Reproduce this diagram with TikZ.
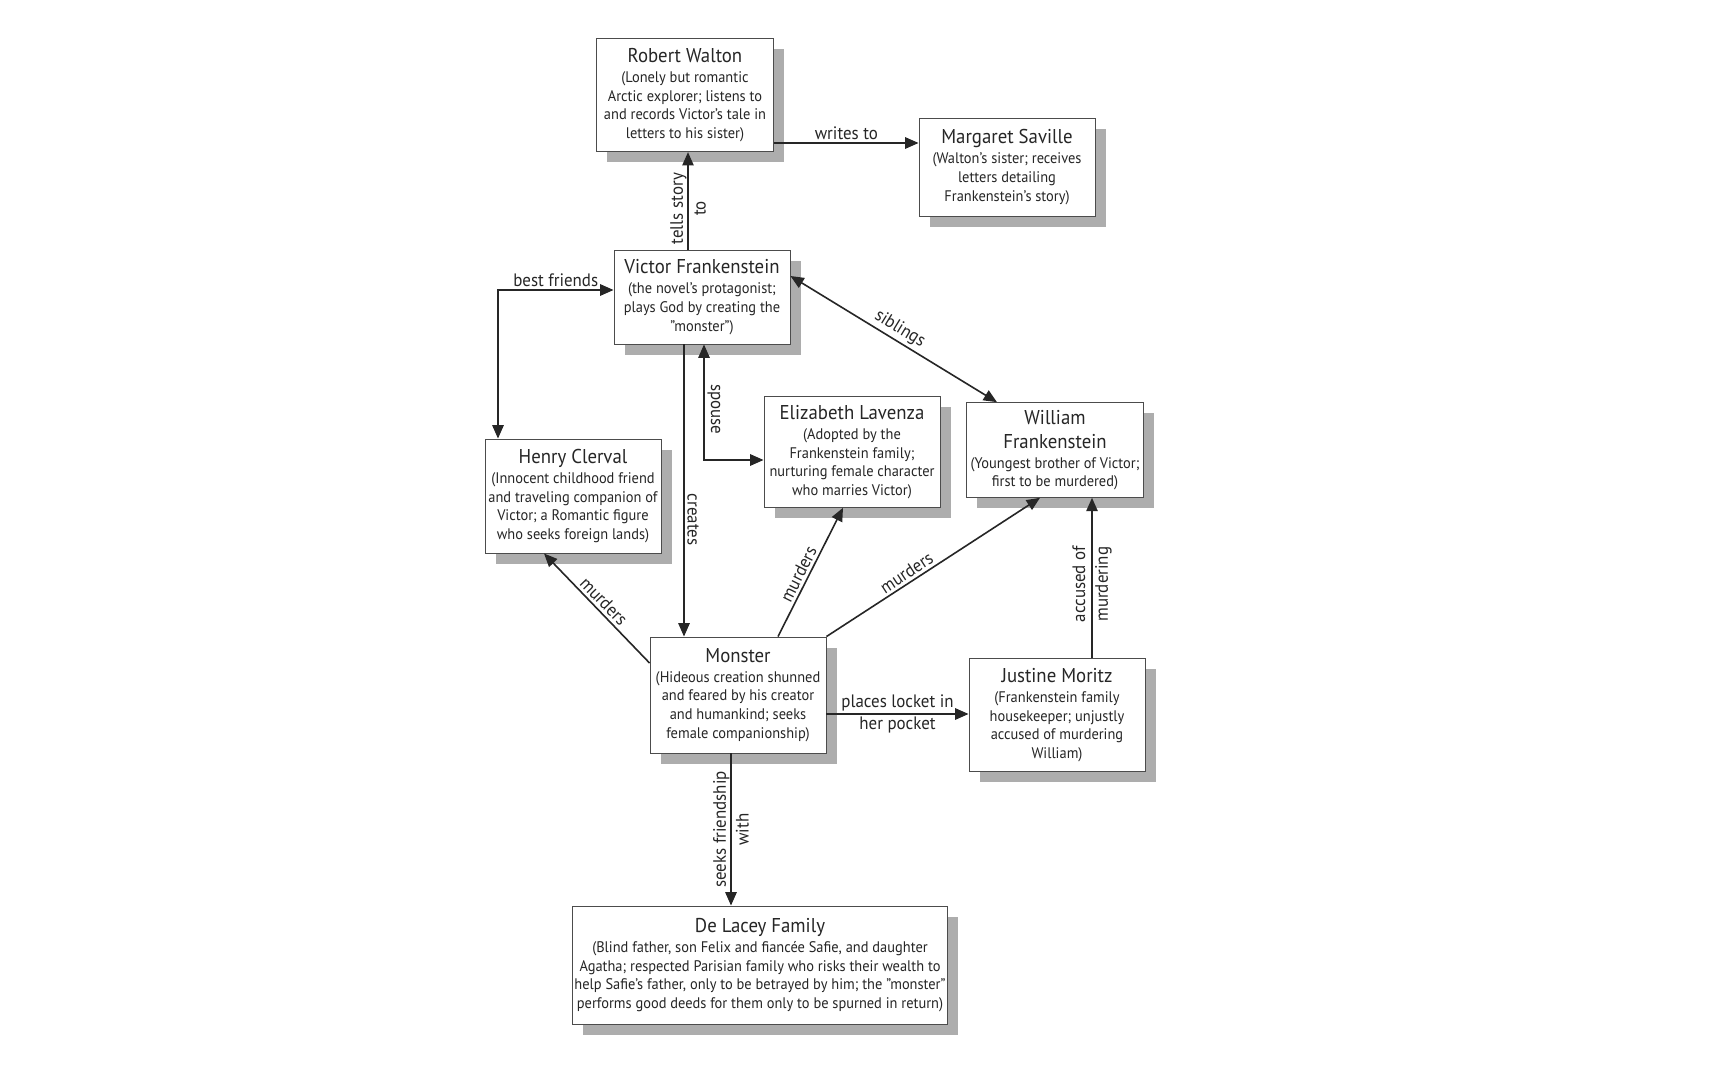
\documentclass[tikz,border=0pt]{standalone}
\usepackage{fontspec}
\setmainfont{PT Sans}[FakeStretch=0.94]
\usetikzlibrary{arrows.meta,shadows}
\newcommand\ttl[1]{{\fontsize{15}{18}\selectfont #1}}
\begin{document}
\begin{tikzpicture}[x=0.75pt,y=-0.75pt,
  cbox/.style={draw=black!70, line width=0.7pt, fill=white, align=center, inner sep=1pt,
     font=\fontsize{11.5}{14}\selectfont, text=black!85,
     drop shadow={shadow xshift=8pt, shadow yshift=-8pt, fill=black!32, opacity=1}},
  conn/.style={draw=black!85, line width=1.2pt},
  arr/.style={conn, -{Triangle[length=10pt,width=8.5pt]}},
  arrs/.style={conn, {Triangle[length=10pt,width=8.5pt]}-{Triangle[length=10pt,width=8.5pt]}},
  lbl/.style={font=\fontsize{13.5}{17}\selectfont, text=black!85, inner sep=2pt, align=center}]
\useasboundingbox[fill=white] (0,0) rectangle (1728,1080);

\node[cbox, minimum width=133pt, minimum height=85pt] (walton) at (685,95)
  {\ttl{Robert Walton}\\[1pt](Lonely but romantic\\Arctic explorer; listens to\\and records Victor’s tale in\\letters to his sister)};
\node[cbox, minimum width=132pt, minimum height=73.5pt] (margaret) at (1007,167)
  {\ttl{Margaret Saville}\\[1pt](Walton’s sister; receives\\letters detailing\\Frankenstein’s story)};
\node[cbox, minimum width=132pt, minimum height=70.5pt] (victor) at (702,297)
  {\ttl{Victor Frankenstein}\\[1pt](the novel’s protagonist;\\plays God by creating the\\"monster")};
\node[cbox, minimum width=132pt, minimum height=83pt] (elizabeth) at (852,452)
  {\ttl{Elizabeth Lavenza}\\[1pt](Adopted by the\\Frankenstein family;\\nurturing female character\\who marries Victor)};
\node[cbox, minimum width=133pt, minimum height=71pt] (william) at (1055,450)
  {\ttl{William}\\[4pt]\ttl{Frankenstein}\\[1pt](Youngest brother of Victor;\\first to be murdered)};
\node[cbox, minimum width=132pt, minimum height=85.5pt] (henry) at (573,496)
  {\ttl{Henry Clerval}\\[1pt](Innocent childhood friend\\and traveling companion of\\Victor; a Romantic figure\\who seeks foreign lands)};
\node[cbox, minimum width=132pt, minimum height=87pt] (monster) at (738,695)
  {\ttl{Monster}\\[1pt](Hideous creation shunned\\and feared by his creator\\and humankind; seeks\\female companionship)};
\node[cbox, minimum width=132pt, minimum height=85pt] (justine) at (1057,715)
  {\ttl{Justine Moritz}\\[1pt](Frankenstein family\\housekeeper; unjustly\\accused of murdering\\William)};
\node[cbox, minimum width=281pt, minimum height=88.5pt] (delacey) at (760,965)
  {\ttl{De Lacey Family}\\[1pt](Blind father, son Felix and fiancée Safie, and daughter\\Agatha; respected Parisian family who risks their wealth to\\help Safie’s father, only to be betrayed by him; the "monster"\\performs good deeds for them only to be spurned in return)};

% connectors
\draw[arr] (victor.north -| 688,0) -- (walton.south -| 688,0)
  node[lbl, rotate=90, pos=0.42] {tells story\\to};
\draw[arr] (walton.east |- 0,143) -- (margaret.west |- 0,143)
  node[lbl, midway, above] {writes to};
\draw[arrs] (henry.north -| 498,0) |- (victor.west |- 0,290)
  node[lbl, pos=0.75, above] {best friends};
\draw[arrs] (victor.east |- 0,276) -- (william.north -| 997,0)
  node[lbl, midway, sloped, above] {siblings};
\draw[arrs] (victor.south -| 704,0) |- (elizabeth.west |- 0,460)
  node[lbl, pos=0.28, rotate=-90, anchor=south] {spouse};
\draw[arr] (victor.south -| 684,0) -- (monster.north -| 684,0)
  node[lbl, pos=0.6, rotate=-90, anchor=south] {creates};
\draw[arr] (monster.west |- 0,663) -- (henry.south -| 544,0)
  node[lbl, midway, sloped, above] {murders};
\draw[arr] (monster.north -| 778,0) -- (elizabeth.south -| 843,0)
  node[lbl, pos=0.45, sloped, above] {murders};
\draw[arr] (monster.north east) -- (william.south -| 1040,0)
  node[lbl, pos=0.4, sloped, above] {murders};
\draw[arr] (justine.north -| 1092,0) -- (william.south -| 1092,0)
  node[lbl, rotate=90, pos=0.46] {accused of\\murdering};
\draw[arr] (monster.east |- 0,714) -- (justine.west |- 0,714)
  node[lbl, midway] {places locket in\\her pocket};
\draw[arr] (monster.south -| 731,0) -- (delacey.north -| 731,0)
  node[lbl, rotate=90, midway] {seeks friendship\\with};
\end{tikzpicture}
\end{document}
